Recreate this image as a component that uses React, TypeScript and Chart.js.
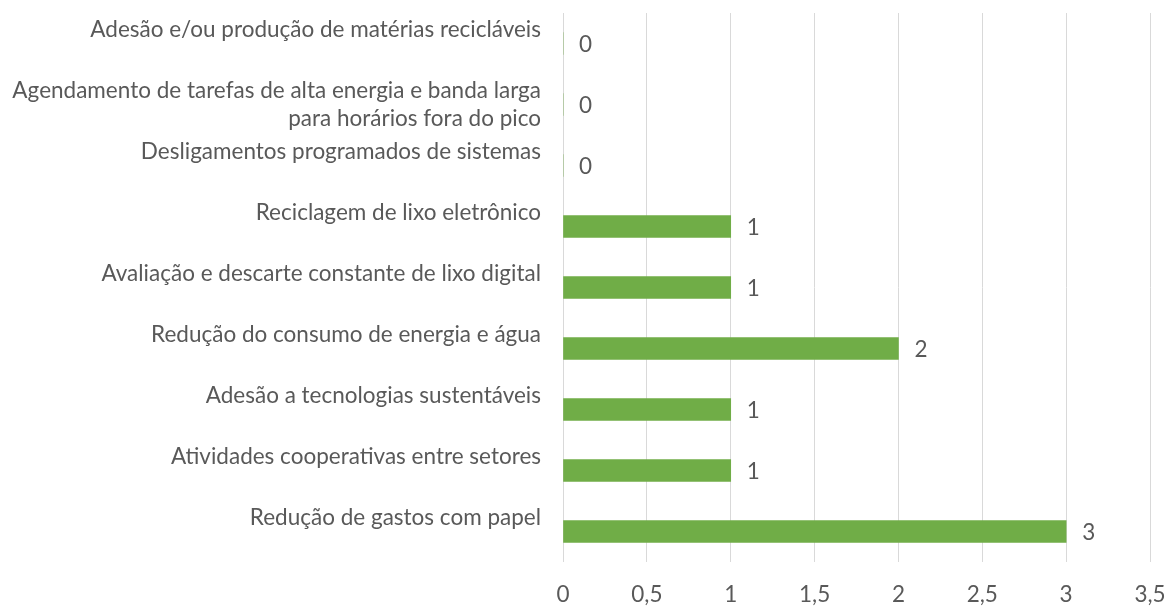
import React, { useEffect, useRef } from "react";
import { Chart, registerables } from "chart.js";

Chart.register(...registerables);

const categories: (string | string[])[] = [
  ["Adesão e/ou produção de matérias recicláveis", ""],
  ["Agendamento de tarefas de alta energia e banda larga", "para horários fora do pico"],
  ["Desligamentos programados de sistemas", ""],
  ["Reciclagem de lixo eletrônico", ""],
  ["Avaliação e descarte constante de lixo digital", ""],
  ["Redução do consumo de energia e água", ""],
  ["Adesão a tecnologias sustentáveis", ""],
  ["Atividades cooperativas entre setores", ""],
  ["Redução de gastos com papel", ""],
];
const values: number[] = [0, 0, 0, 1, 1, 2, 1, 1, 3];
const xMax = 3.5;
const xStep = 0.5;

const FONT = "Lato, sans-serif";
const FSIZE = 22.5;
const FWEIGHT = 400;
const TEXT = "#595959";

const valueLabels = {
  id: "valueLabels",
  afterDatasetsDraw(chart: any) {
    const { ctx } = chart;
    const meta = chart.getDatasetMeta(0);
    ctx.save();
    ctx.font = `${FWEIGHT} ${FSIZE}px ${FONT}`;
    ctx.fillStyle = TEXT;
    ctx.textAlign = "left";
    ctx.textBaseline = "middle";
    meta.data.forEach((bar: any, i: number) => {
      const v = chart.data.datasets[0].data[i];
      ctx.fillText(String(v), bar.x + 16, bar.y + 1);
    });
    ctx.restore();
  },
};

export default function App() {
  const ref = useRef<HTMLCanvasElement | null>(null);
  useEffect(() => {
    if (!ref.current) return;
    const chart = new Chart(ref.current, {
      type: "bar",
      data: {
        labels: categories,
        datasets: [
          {
            data: values,
            backgroundColor: "#70AD47",
            barThickness: 22,
          },
        ],
      },
      options: {
        indexAxis: "y",
        animation: false,
        responsive: false,
        maintainAspectRatio: false,
        layout: { padding: { top: 13, right: 24, left: 0, bottom: 0 } },
        plugins: { legend: { display: false }, tooltip: { enabled: false } },
        scales: {
          x: {
            min: 0,
            max: xMax,
            border: { display: false },
            grid: { color: "#d9d9d9", lineWidth: 1, drawTicks: false },
            ticks: {
              stepSize: xStep,
              padding: 19,
              color: TEXT,
              font: { family: FONT, size: FSIZE, weight: FWEIGHT },
              callback: (v: any) => String(v).replace(".", ","),
            },
            afterFit: (s: any) => {
              s.height = 44;
              s.paddingLeft = 0;
              s.paddingRight = 0;
            },
          },
          y: {
            border: { display: false },
            grid: { display: false, drawTicks: false },
            ticks: {
              padding: 22,
              color: TEXT,
              autoSkip: false,
              font: { family: FONT, size: FSIZE, weight: FWEIGHT, lineHeight: "28px" },
            },
            afterFit: (s: any) => {
              s.width = 563;
              s.paddingTop = 0;
              s.paddingBottom = 0;
            },
          },
        },
      },
      plugins: [valueLabels],
    });
    return () => chart.destroy();
  }, []);
  return (
    <div style={{ position: "fixed", left: 0, top: 0, width: 1174, height: 606, background: "#fff" }}>
      <canvas ref={ref} width={1174} height={606} style={{ width: 1174, height: 606 }} />
    </div>
  );
}
